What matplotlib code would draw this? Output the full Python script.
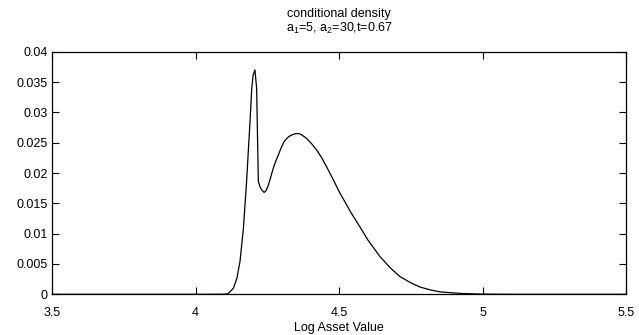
import matplotlib
matplotlib.use("Agg")
import matplotlib.pyplot as plt

plt.rcParams['font.family'] = ['Liberation Sans', 'DejaVu Sans']
plt.rcParams['mathtext.fontset'] = 'custom'
plt.rcParams['mathtext.rm'] = 'Liberation Sans'
plt.rcParams['mathtext.it'] = 'Liberation Sans'

log_asset = [3.5, 4.05, 4.10, 4.114, 4.132, 4.144, 4.155, 4.167, 4.178, 4.190, 4.196,
             4.201, 4.207, 4.213, 4.219, 4.225, 4.231, 4.239, 4.246, 4.254, 4.262,
             4.271, 4.280, 4.289, 4.298, 4.308, 4.316, 4.325, 4.337, 4.350, 4.360,
             4.370, 4.387, 4.405, 4.422, 4.44, 4.457, 4.48, 4.503, 4.52, 4.54, 4.573,
             4.60, 4.62, 4.643, 4.68, 4.713, 4.75, 4.782, 4.82, 4.852, 4.88, 4.922,
             4.95, 5.0, 5.1, 5.5]
density = [0.0, 0.0, 0.00002, 0.0001, 0.001, 0.0026, 0.0054, 0.0109, 0.0186, 0.0285, 0.034,
           0.0362, 0.0370, 0.034, 0.0186, 0.0177, 0.0172, 0.0168, 0.0171, 0.0180, 0.0193,
           0.0208, 0.0220, 0.0230, 0.0241, 0.0251, 0.0256, 0.0260, 0.0263, 0.0265, 0.0265,
           0.0263, 0.0257, 0.0248, 0.0238, 0.0225, 0.0210, 0.0189, 0.0167, 0.0153, 0.0136,
           0.0111, 0.0090, 0.0077, 0.0062, 0.0043, 0.0029, 0.0019, 0.0012, 0.0007, 0.0004,
           0.0003, 0.00015, 0.0001, 0.00003, 0.0, 0.0]

xticks = [3.5, 4, 4.5, 5, 5.5]
xtick_labels = ['3.5', '4', '4.5', '5', '5.5']
yticks = [0, 0.005, 0.01, 0.015, 0.02, 0.025, 0.03, 0.035, 0.04]
ytick_labels = ['0', '0.005', '0.01', '0.015', '0.02', '0.025', '0.03', '0.035', '0.04']

fig = plt.figure(figsize=(6.39, 3.35), dpi=100)
ax = fig.add_axes([52/639, 1 - 294.3/335, (626-52)/639, (294.3-51.7)/335])
ax.plot(log_asset, density, color='black', linewidth=0.9)
ax.set_xlim(3.5, 5.5)
ax.set_ylim(0, 0.04)
ax.set_xticks(xticks)
ax.set_xticklabels(xtick_labels)
ax.set_yticks(yticks)
ax.set_yticklabels(ytick_labels)
ax.tick_params(direction='in', top=True, right=True, length=5, width=0.8,
               labelsize=9)
ax.tick_params(axis='y', pad=3)
ax.tick_params(axis='x', pad=9)
for s in ax.spines.values():
    s.set_linewidth(0.9)
ax.set_xlabel('Log Asset Value', fontsize=9, labelpad=2)
ax.set_title('conditional density\n' + r'a$_1$=5, a$_2$=30,t=0.67', fontsize=9,
             linespacing=1.15, pad=14)
fig.savefig('out.png', dpi=100)
